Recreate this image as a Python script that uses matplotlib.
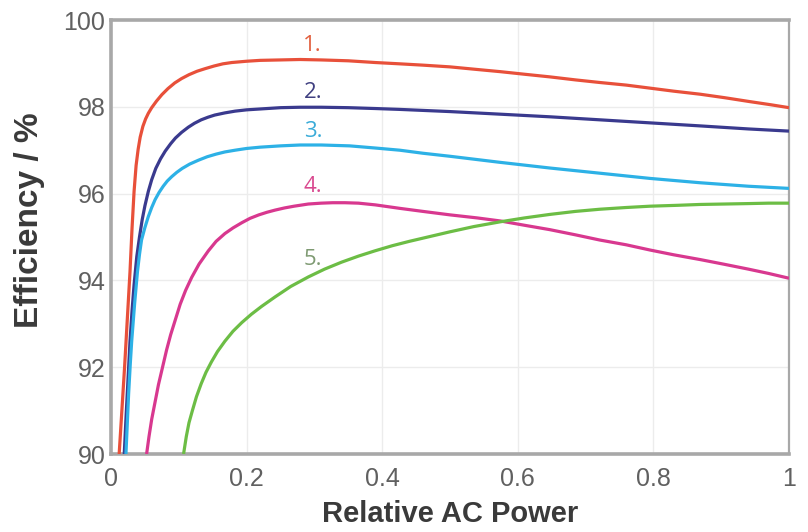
import matplotlib
matplotlib.use("Agg")
import matplotlib.pyplot as plt

# Efficiency curves vs. relative AC power (values in %)
x1 = [0.012, 0.016, 0.020, 0.024, 0.028, 0.031, 0.034, 0.037, 0.040, 0.043, 0.047, 0.051,
      0.055, 0.060, 0.067, 0.075, 0.084, 0.094, 0.104, 0.115, 0.127, 0.139, 0.152, 0.165,
      0.178, 0.200, 0.220, 0.250, 0.279, 0.310, 0.350, 0.390, 0.426, 0.460, 0.500, 0.540,
      0.574, 0.610, 0.647, 0.685, 0.721, 0.760, 0.795, 0.830, 0.869, 0.905, 0.942, 0.972,
      1.000]
y1 = [90.0, 91.0, 92.0, 93.1, 94.2, 95.2, 96.05, 96.65, 97.02, 97.3, 97.55, 97.72,
      97.85, 97.98, 98.13, 98.28, 98.42, 98.55, 98.65, 98.74, 98.82, 98.88, 98.94, 98.99,
      99.02, 99.05, 99.07, 99.08, 99.09, 99.08, 99.06, 99.02, 98.99, 98.96, 98.92, 98.86,
      98.81, 98.75, 98.69, 98.62, 98.56, 98.50, 98.43, 98.36, 98.29, 98.21, 98.12, 98.05,
      97.98]

x2 = [0.0195, 0.022, 0.025, 0.028, 0.031, 0.034, 0.038, 0.042, 0.046, 0.050, 0.055, 0.060,
      0.066, 0.073, 0.080, 0.088, 0.095, 0.104, 0.114, 0.123, 0.133, 0.143, 0.153, 0.168,
      0.183, 0.200, 0.220, 0.250, 0.279, 0.310, 0.350, 0.390, 0.426, 0.500, 0.574, 0.647,
      0.721, 0.795, 0.869, 0.940, 1.000]
y2 = [90.0, 90.8, 91.7, 92.6, 93.3, 93.9, 94.55, 95.0, 95.4, 95.72, 96.05, 96.32,
      96.58, 96.8, 96.98, 97.15, 97.28, 97.41, 97.53, 97.62, 97.7, 97.76, 97.81, 97.86,
      97.9, 97.93, 97.95, 97.98, 97.99, 97.99, 97.98, 97.96, 97.94, 97.89, 97.83, 97.77,
      97.70, 97.63, 97.56, 97.49, 97.44]

x3 = [0.022, 0.024, 0.026, 0.0285, 0.0305, 0.033, 0.035, 0.039, 0.042, 0.045, 0.050, 0.055,
      0.060, 0.065, 0.071, 0.077, 0.083, 0.0895, 0.097, 0.105, 0.116, 0.129, 0.142, 0.155,
      0.168, 0.183, 0.200, 0.220, 0.250, 0.279, 0.310, 0.352, 0.390, 0.426, 0.460, 0.500,
      0.574, 0.647, 0.721, 0.795, 0.869, 0.940, 1.000]
y3 = [90.0, 90.7, 91.4, 92.1, 92.6, 93.1, 93.5, 94.2, 94.6, 94.93, 95.22, 95.47,
      95.68, 95.86, 96.03, 96.17, 96.29, 96.39, 96.49, 96.58, 96.68, 96.77, 96.85, 96.91,
      96.96, 97.0, 97.04, 97.07, 97.1, 97.12, 97.12, 97.1, 97.05, 97.0, 96.93, 96.86,
      96.72, 96.59, 96.47, 96.35, 96.25, 96.17, 96.12]

x4 = [0.0525, 0.056, 0.060, 0.065, 0.070, 0.076, 0.082, 0.088, 0.095, 0.102, 0.110, 0.119,
      0.130, 0.1435, 0.155, 0.168, 0.180, 0.193, 0.205, 0.218, 0.230, 0.242, 0.256, 0.270,
      0.291, 0.310, 0.327, 0.345, 0.365, 0.390, 0.426, 0.460, 0.500, 0.540, 0.574, 0.610,
      0.647, 0.685, 0.721, 0.760, 0.795, 0.830, 0.869, 0.905, 0.940, 0.970, 1.000]
y4 = [90.0, 90.4, 90.8, 91.2, 91.6, 92.0, 92.4, 92.75, 93.1, 93.45, 93.77, 94.07,
      94.38, 94.68, 94.9, 95.08, 95.21, 95.33, 95.43, 95.51, 95.57, 95.62, 95.67, 95.71,
      95.76, 95.78, 95.79, 95.79, 95.78, 95.74, 95.66, 95.59, 95.51, 95.44, 95.37, 95.27,
      95.17, 95.05, 94.93, 94.82, 94.70, 94.59, 94.48, 94.37, 94.26, 94.16, 94.05]

x5 = [0.107, 0.111, 0.115, 0.120, 0.126, 0.133, 0.140, 0.148, 0.157, 0.168, 0.180, 0.193,
      0.207, 0.222, 0.242, 0.265, 0.291, 0.315, 0.340, 0.365, 0.389, 0.415, 0.440, 0.470,
      0.500, 0.535, 0.574, 0.610, 0.647, 0.685, 0.721, 0.760, 0.795, 0.835, 0.869, 0.905,
      0.940, 0.970, 1.000]
y5 = [90.0, 90.4, 90.72, 91.0, 91.32, 91.62, 91.88, 92.12, 92.36, 92.6, 92.83, 93.03,
      93.22, 93.4, 93.62, 93.86, 94.08, 94.26, 94.42, 94.56, 94.68, 94.8, 94.9, 95.01,
      95.12, 95.24, 95.35, 95.44, 95.52, 95.59, 95.64, 95.68, 95.71, 95.73, 95.75, 95.76,
      95.77, 95.78, 95.78]

series_x = [x1, x2, x3, x4, x5]
series_y = [y1, y2, y3, y4, y5]
line_colors = ["#E8503A", "#3A3A8E", "#2DB1E6", "#D8388F", "#6CBD45"]

curve_labels = ["1.", "2.", "3.", "4.", "5."]
label_x = [0.297, 0.298, 0.298, 0.298, 0.298]
label_y = [99.42, 98.32, 97.44, 96.16, 94.49]
label_colors = ["#E2603F", "#3F3F80", "#3AABD8", "#D9488F", "#7E9A72"]

x_ticks = [0, 0.2, 0.4, 0.6, 0.8, 1]
x_ticklabels = ["0", "0.2", "0.4", "0.6", "0.8", "1"]
y_ticks = [90, 92, 94, 96, 98, 100]

fig = plt.figure(figsize=(8.08, 5.32), dpi=100)
ax = fig.add_axes([0.1374, 0.1466, 0.8391, 0.8158])

for xs, ys, c in zip(series_x, series_y, line_colors):
    ax.plot(xs, ys, color=c, lw=2.3, solid_capstyle="butt",
            solid_joinstyle="round", zorder=3)

for t, lx, ly, c in zip(curve_labels, label_x, label_y, label_colors):
    ax.text(lx, ly, t, color=c, fontsize=16, family="Open Sans",
            ha="center", va="center", zorder=4)

ax.set_xlim(0, 1)
ax.set_ylim(90, 100)
ax.set_xticks(x_ticks)
ax.set_xticklabels(x_ticklabels)
ax.set_yticks(y_ticks)

ax.grid(True, color="#ECECEC", lw=1.0, zorder=0)
ax.set_axisbelow(True)

for side in ["left", "bottom", "top"]:
    ax.spines[side].set_color("#A8A8A8")
    ax.spines[side].set_linewidth(2.6)
ax.spines["right"].set_color("#A8A8A8")
ax.spines["right"].set_linewidth(1.6)

ax.tick_params(axis="both", length=0, labelsize=18, labelcolor="#606060")
ax.tick_params(axis="x", pad=9)
ax.tick_params(axis="y", pad=4)
for lbl in ax.get_xticklabels() + ax.get_yticklabels():
    lbl.set_family("Liberation Sans")

ax.set_xlabel("Relative AC Power", fontsize=21, fontweight="bold",
              color="#3A3A3A", family="Liberation Sans")
ax.set_ylabel("Efficiency / %", fontsize=24, fontweight="bold",
              color="#3A3A3A", family="Liberation Sans")
ax.xaxis.set_label_coords(0.5, -0.105)
ax.yaxis.set_label_coords(-0.098, 0.539)

fig.savefig("out.png", dpi=100)
